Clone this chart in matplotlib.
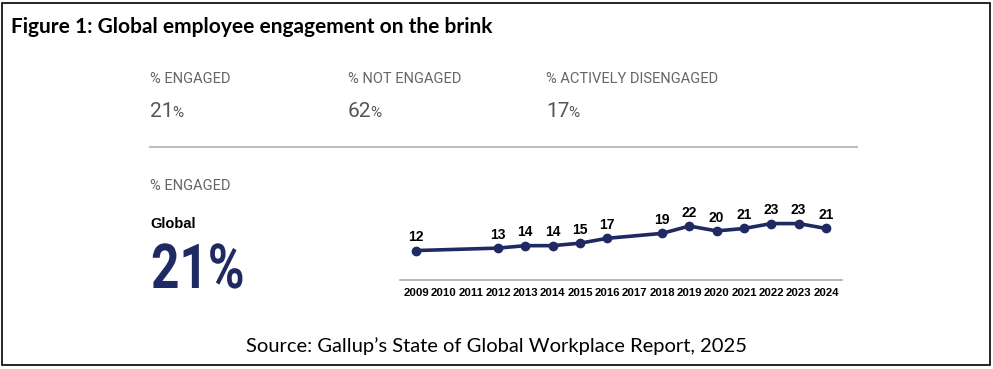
import matplotlib.pyplot as plt
from matplotlib.patches import Rectangle, PathPatch
from matplotlib.textpath import TextPath
from matplotlib.font_manager import FontProperties
from matplotlib.transforms import Affine2D

W, H = 993, 369

years = [2009, 2012, 2013, 2014, 2015, 2016, 2018, 2019, 2020, 2021, 2022, 2023, 2024]
engaged = [12, 13, 14, 14, 15, 17, 19, 22, 20, 21, 23, 23, 21]
tick_years = list(range(2009, 2025))

summary_labels = ["% ENGAGED", "% NOT ENGAGED", "% ACTIVELY DISENGAGED"]
summary_values = ["21", "62", "17"]
summary_x = [150, 348, 546]
global_value = "21%"

navy = "#1f2a63"
gray = "#666666"


def fx(px):
    return px / W


def fy(px):
    return 1 - px / H


fig = plt.figure(figsize=(W / 100, H / 100), dpi=100)
fig.patch.set_facecolor("white")

# frame round the whole figure
fig.patches.append(Rectangle((fx(2), fy(365)), fx(988), (363 - 1) / H,
                             transform=fig.transFigure, fill=False,
                             edgecolor="black", linewidth=1.2))

fig.text(fx(11), fy(33), "Figure 1: Global employee engagement on the brink",
         fontsize=15, fontweight="bold", family="Lato", va="baseline")

for lab, val, x in zip(summary_labels, summary_values, summary_x):
    fig.text(fx(x), fy(83), lab, fontsize=10.5, color=gray, family="Roboto", va="baseline")
    t = fig.text(fx(x), fy(117), val, fontsize=15, color="#555555", family="Roboto", va="baseline")
    fig.canvas.draw()
    bb = t.get_window_extent()
    fig.text((bb.x1 - 1) / W, fy(117), "%", fontsize=11, color="#555555",
             family="Roboto", va="baseline")

# divider
fig.add_artist(plt.Line2D([fx(150), fx(857)], [fy(147), fy(147)],
                          transform=fig.transFigure, color="#bdbdbd", linewidth=1.5))

fig.text(fx(150), fy(190), "% ENGAGED", fontsize=10.5, color=gray, family="Roboto", va="baseline")
fig.text(fx(150), fy(228), "Global", fontsize=10.5, fontweight="bold",
         family="Liberation Sans", va="baseline")

# big condensed "21%" (squeezed text path)
tp = TextPath((0, 0), global_value, size=62, prop=FontProperties(family="Roboto", weight="bold"))
big = PathPatch(tp, facecolor=navy, edgecolor="none",
                transform=Affine2D().scale(0.8, 1).translate(151, H - 288))
fig.patches.append(big)

fig.text(fx(497), fy(352), "Source: Gallup\u2019s State of Global Workplace Report, 2025",
         fontsize=14.5, family="Lato", ha="center", va="baseline")

# line chart
ax = fig.add_axes([fx(400), fy(280), (842 - 400) / W, (280 - 206.4) / H])
ax.plot(years, engaged, color=navy, linewidth=2.6, marker="o", markersize=6)
for x, v in zip(years, engaged):
    ax.annotate(str(v), (x, v), xytext=(0, 4.5), textcoords="offset points",
                ha="center", va="bottom", fontsize=10, fontweight="bold",
                family="Liberation Sans")
ax.set_xlim(2008.415, 2024.585)
ax.set_ylim(0, 30)
ax.set_xticks(tick_years)
ax.set_xticklabels([str(y) for y in tick_years], fontsize=8.2, fontweight="bold",
                   family="Liberation Sans")
ax.tick_params(axis="x", length=0, pad=6)
ax.set_yticks([])
for s in ["top", "left", "right"]:
    ax.spines[s].set_visible(False)
ax.spines["bottom"].set_color("#aaaaaa")
ax.spines["bottom"].set_linewidth(1.2)
ax.patch.set_alpha(0)

fig.savefig("out.png", dpi=100)
